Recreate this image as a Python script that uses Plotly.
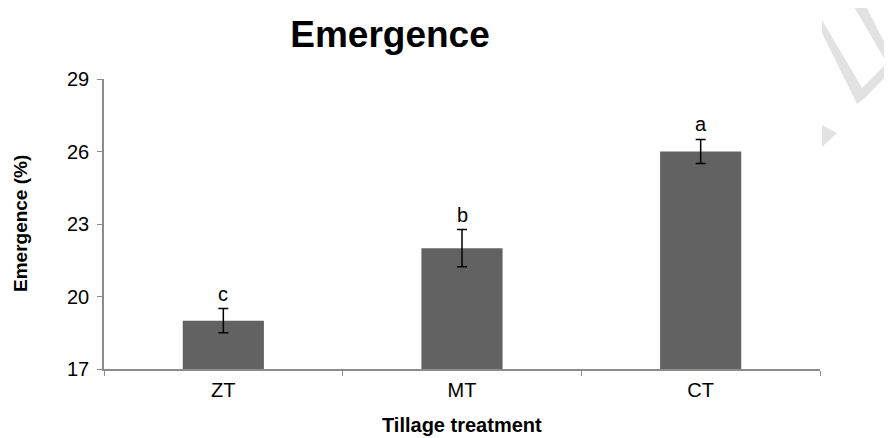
import plotly.graph_objects as go

categories = ["ZT", "MT", "CT"]
emergence = [19.0, 22.0, 26.0]
err_plus = [0.5, 0.77, 0.5]
err_minus = [0.5, 0.77, 0.5]
letters = ["c", "b", "a"]
y_ticks = [17, 20, 23, 26, 29]

FONT = "Liberation Sans, Arial, sans-serif"
W, H = 884, 430  # page body has an 8px margin
L, R, T, B = 96, 72, 71, 69

fig = go.Figure()
fig.add_trace(go.Bar(
    x=categories, y=emergence,
    marker=dict(color="#626262", line=dict(color="#626262", width=0)),
    width=0.34,
    error_y=dict(type="data", array=err_plus, arrayminus=err_minus,
                 color="black", thickness=1.5, width=5, symmetric=False),
))

for c, v, e, l in zip(categories, emergence, err_plus, letters):
    fig.add_annotation(x=c, y=v + e, text=l, showarrow=False,
                       yanchor="bottom", yshift=2,
                       font=dict(family=FONT, size=20, color="black"))

# axis titles
fig.add_annotation(xref="paper", yref="paper", x=0, y=0.5, xanchor="center",
                   yanchor="middle", xshift=-84, textangle=-90,
                   text="<b>Emergence (%)</b>", showarrow=False,
                   font=dict(family=FONT, size=19, color="black"))
fig.add_annotation(xref="paper", yref="paper", x=0.5, y=0, xanchor="center",
                   yanchor="middle", yshift=-56,
                   text="<b>Tillage treatment</b>", showarrow=False,
                   font=dict(family=FONT, size=20, color="black"))

# faint watermark fragments (page px -> plot-area paper fraction)
PW, PH = W - L - R, H - T - B


def px(xp, yp):
    return (xp - 8 - L) / PW, 1 - (yp - 8 - T) / PH


wm = [
    [(850, 0), (863, 0), (892, 58), (892, 72)],
    [(822, 20), (822, 33), (857, 104), (866, 97), (892, 70), (892, 58), (862, 88)],
    [(822, 125), (837, 133), (822, 147)],
]
for poly in wm:
    pts = [px(a, b) for a, b in poly]
    path = "M " + " L ".join(f"{a:.4f},{b:.4f}" for a, b in pts) + " Z"
    fig.add_shape(type="path", xref="paper", yref="paper", path=path,
                  fillcolor="#e2e2e2", line=dict(width=0), layer="below")

fig.update_layout(
    width=W, height=H,
    margin=dict(l=L, r=R, t=T, b=B),
    paper_bgcolor="white", plot_bgcolor="white",
    showlegend=False,
    title=dict(text="<b>Emergence</b>", x=(390 - 8) / W, xanchor="center",
               y=1 - (34 - 8) / H, yanchor="middle",
               font=dict(family=FONT, size=37, color="black")),
    font=dict(family=FONT, color="black"),
)
fig.update_xaxes(
    showline=True, linecolor="#8c8c8c", linewidth=1.5,
    ticks="outside", tickson="boundaries", ticklen=5, tickcolor="#8c8c8c",
    ticklabelstandoff=2,
    tickfont=dict(family=FONT, size=20, color="black"),
    showgrid=False,
)
fig.update_yaxes(
    range=[17, 29], tickvals=y_ticks,
    showline=True, linecolor="#8c8c8c", linewidth=1.5,
    ticks="outside", ticklen=5, tickcolor="#8c8c8c",
    ticklabelstandoff=4,
    tickfont=dict(family=FONT, size=20, color="black"),
    showgrid=False, zeroline=False,
)

fig.write_html("out.html")
